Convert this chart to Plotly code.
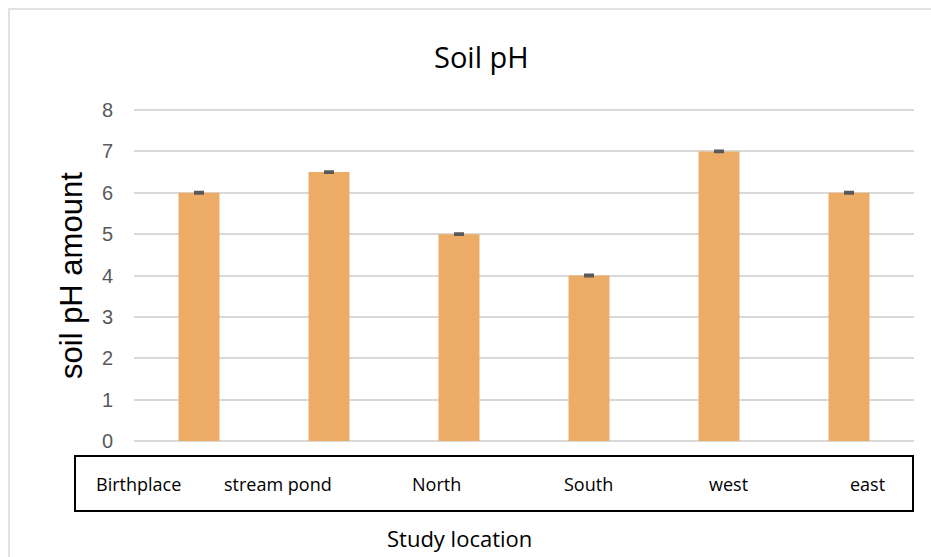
import plotly.graph_objects as go

categories = ["Birthplace", "stream pond", "North", "South", "west", "east"]
ph_values = [6.0, 6.5, 5.0, 4.0, 7.0, 6.0]
ph_errors = [0.01, 0.01, 0.01, 0.01, 0.01, 0.01]
y_ticks = [0, 1, 2, 3, 4, 5, 6, 7, 8]

W, H = 931, 557
UNIT = 331 / 8.0
PAD = 0.05
L, R = 134, 17
T = 110 - PAD * UNIT
B = 116 - PAD * UNIT
pw, ph = W - L - R, H - T - B

def px(x):
    return (x - L) / pw

def py(y):
    return (H - B - y) / ph

def label(x, y, text, size, angle=0, family="Open Sans"):
    fig.add_annotation(x=px(x), y=py(y), xref="paper", yref="paper",
                       xanchor="center", yanchor="middle",
                       text=text, showarrow=False, textangle=angle,
                       font=dict(family=family, size=size, color="#000000"))

fig = go.Figure()
fig.add_trace(go.Bar(
    x=categories, y=ph_values, width=0.315,
    marker=dict(color="#EDAC65", line=dict(width=0)),
    error_y=dict(type="data", array=ph_errors, visible=True,
                 color="#595959", thickness=3, width=5),
))

label_x = [138, 278, 436, 588, 728, 867]
for name, xp in zip(categories, label_x):
    label(xp, 484, name, 18)

fig.add_shape(type="rect", xref="paper", yref="paper",
              x0=px(75), x1=px(913), y0=py(456), y1=py(511),
              line=dict(color="#000000", width=2))
# outer chart border
fig.add_shape(type="rect", xref="paper", yref="paper",
              x0=px(9), x1=px(940), y0=py(9), y1=py(570),
              line=dict(color="#D9D9D9", width=1.5))

label(481, 56, "Soil pH", 29)
label(72, 276, "soil pH amount", 31, -90, "Liberation Sans")
label(459, 538, "Study location", 22)

fig.update_layout(
    width=W, height=H,
    margin=dict(l=L, r=R, t=T, b=B),
    paper_bgcolor="#FFFFFF", plot_bgcolor="#FFFFFF",
    showlegend=False,
    xaxis=dict(showticklabels=False, showgrid=False, zeroline=False,
               showline=False, ticks=""),
    yaxis=dict(range=[-PAD, 8 + PAD], tickvals=y_ticks, showgrid=True,
               gridcolor="#D9D9D9", gridwidth=2, zeroline=False,
               showline=False, ticks="", ticklabelstandoff=20,
               tickfont=dict(family="Liberation Sans", size=20, color="#595959")),
)

fig.write_html("out.html")
